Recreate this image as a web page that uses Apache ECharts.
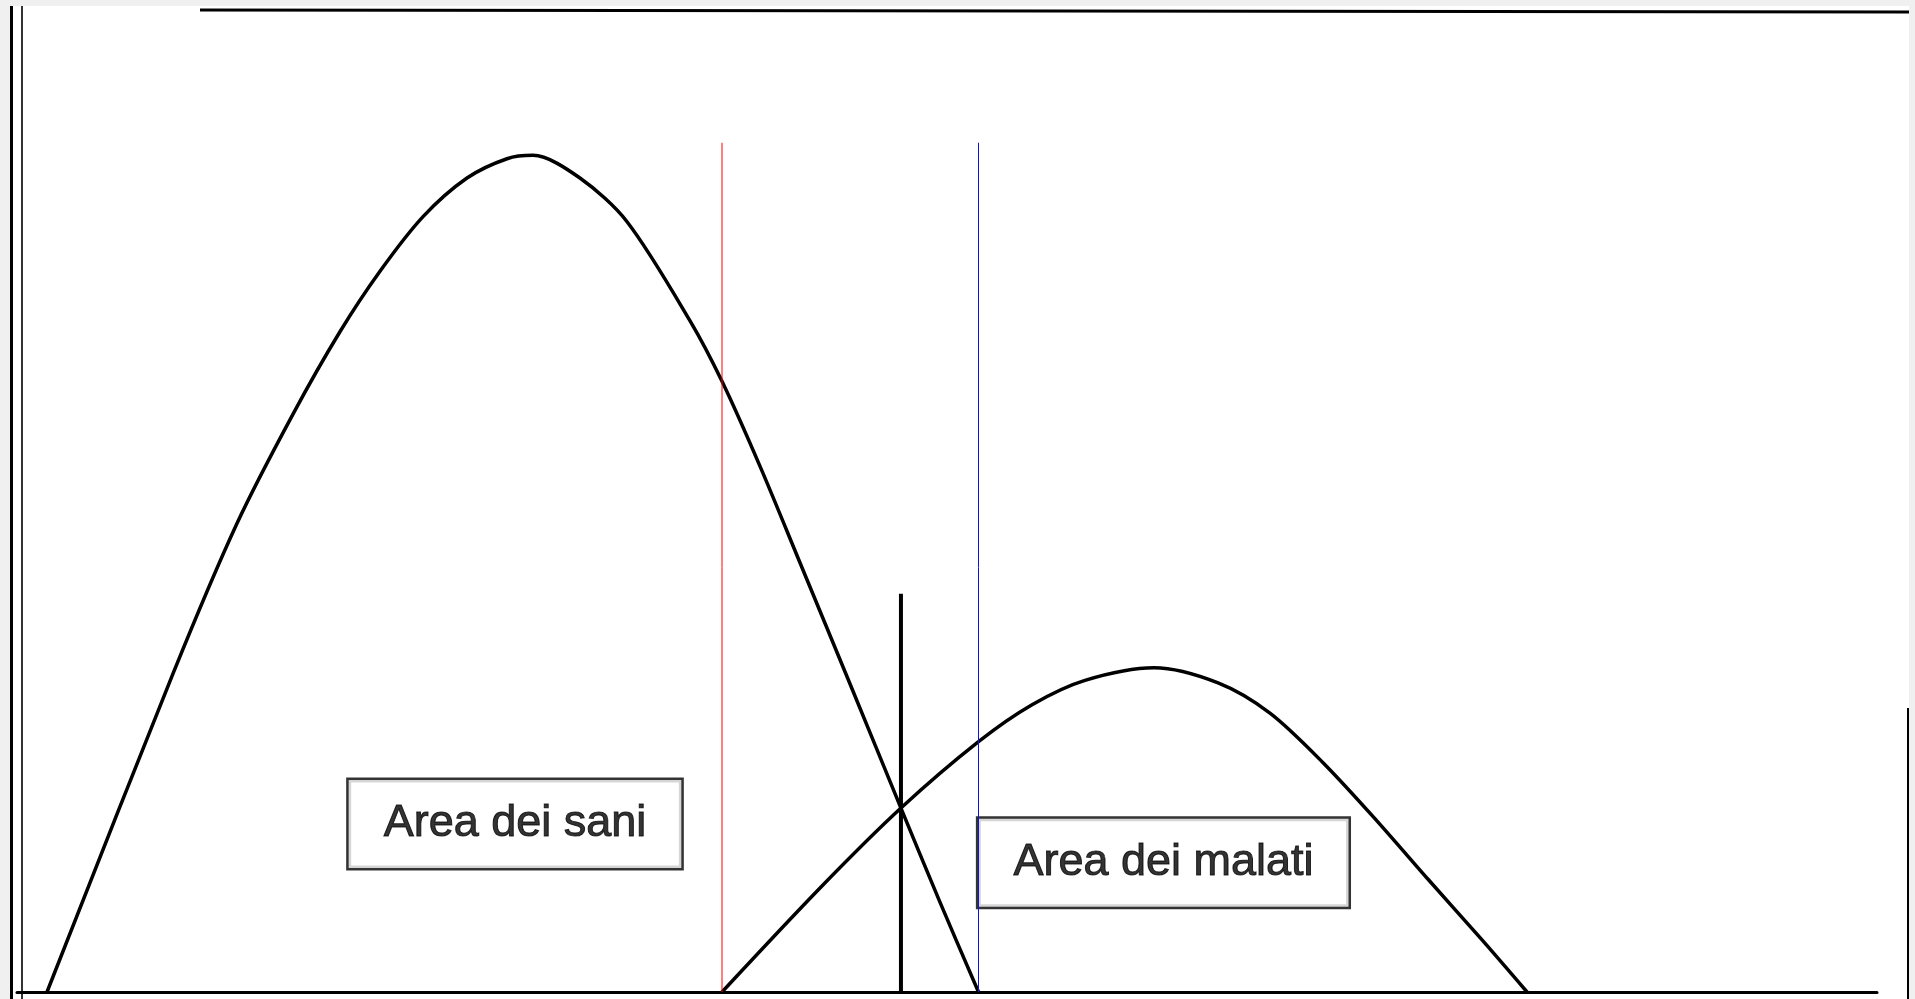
<!DOCTYPE html>
<html>
<head>
<meta charset="utf-8">
<title>Area dei sani / Area dei malati</title>
<script src="https://cdn.jsdelivr.net/npm/echarts@6/dist/echarts.min.js"></script>
<style>
  html, body { margin: 0; padding: 0; background: #ffffff; }
  #chart { width: 1915px; height: 999px; }
</style>
</head>
<body>
<div id="chart"></div>
<script>
// Distribuzione dei sani: punti [valore del test, frequenza]
const curvaSani = [
  [0, 0], [8.4, 37.9], [12.67, 55.8], [16.4, 68.8], [19.53, 78.6],
  [22.2, 85.8], [25.07, 92.3], [28.0, 96.9], [30.67, 99.2], [32.4, 99.6],
  [35.53, 96.9], [38.67, 91.7], [42.87, 79.9], [45.0, 72.7], [47.53, 62.6],
  [50.2, 51.1], [53.53, 36.7], [56.93, 21.9], [59.53, 10.7], [62.1, 0]
];

// Distribuzione dei malati
const curvaMalati = [
  [45.0, 0], [51.6, 12.5], [56.93, 21.9], [62.1, 29.8], [65.67, 34.2],
  [69.2, 37.1], [73.8, 38.6], [78.07, 36.8], [81.53, 33.2], [85.07, 27.3],
  [88.6, 20.5], [92.13, 13.3], [95.67, 6.2], [98.67, 0]
];

// Valore soglia (linea verticale nera) e sua altezza
const soglia = [[56.93, 0], [56.93, 47.4]];

// Limiti delle due distribuzioni (linee sottili rossa e blu)
const limiteInferiore = [[45.0, 0], [45.0, 101.1]];
const limiteSuperiore = [[62.1, 0], [62.1, 101.1]];

// Etichette delle aree, collocate nel piano dei dati
const etichette = [
  { name: 'Area dei sani', value: [31.2, 20.0] },
  { name: 'Area dei malati', value: [74.43, 15.4] }
];

const chart = echarts.init(document.getElementById('chart'), null, { renderer: 'canvas' });

const curveStyle = { color: '#000', width: 3.5, cap: 'round', join: 'round' };

chart.setOption({
  backgroundColor: '#ffffff',
  animation: false,
  grid: { left: 17, right: 38, top: 68, bottom: 7 },
  xAxis: {
    type: 'value', min: -2, max: 122,
    axisLine: { show: true, onZero: false, lineStyle: { color: '#000', width: 3 } },
    axisTick: { show: false }, axisLabel: { show: false }, splitLine: { show: false }
  },
  yAxis: {
    type: 'value', min: 0, max: 110,
    axisLine: { show: false }, axisTick: { show: false },
    axisLabel: { show: false }, splitLine: { show: false }
  },
  series: [
    {
      name: 'Sani', type: 'line', data: curvaSani, smooth: 0.3,
      symbol: 'none', lineStyle: curveStyle, z: 3
    },
    {
      name: 'Malati', type: 'line', data: curvaMalati, smooth: 0.3,
      symbol: 'none', lineStyle: curveStyle, z: 3
    },
    {
      name: 'Soglia', type: 'line', data: soglia, symbol: 'none',
      lineStyle: { color: '#000', width: 4 }, z: 4
    },
    {
      name: 'Limite inferiore', type: 'line', data: limiteInferiore, symbol: 'none',
      lineStyle: { color: '#ff0000', width: 1 }, z: 6
    },
    {
      name: 'Limite superiore', type: 'line', data: limiteSuperiore, symbol: 'none',
      lineStyle: { color: '#1010e0', width: 1 }, z: 6
    },
    {
      name: 'Aree', type: 'scatter', data: etichette, symbolSize: 0, z: 5,
      label: {
        show: true, position: 'inside', formatter: '{b}',
        fontFamily: 'Liberation Sans, Arial, sans-serif', fontSize: 45, lineHeight: 46,
        color: '#000', textBorderWidth: 1, textBorderColor: '#000',
        backgroundColor: '#fff', borderColor: '#000', borderWidth: 2.5,
        padding: [21, 35]
      },
      labelLayout: { hideOverlap: false }
    }
  ],
  graphic: [
    // cornice esterna grigia
    { type: 'rect', left: 0, top: 0, shape: { width: 1915, height: 6 }, style: { fill: '#f0f0f0' }, silent: true },
    { type: 'rect', left: 0, top: 0, shape: { width: 10, height: 999 }, style: { fill: '#f0f0f0' }, silent: true },
    { type: 'rect', left: 1909, top: 0, shape: { width: 6, height: 999 }, style: { fill: '#f0f0f0' }, silent: true },
    // doppio bordo sinistro
    { type: 'rect', left: 10, top: 6, shape: { width: 3, height: 993 }, style: { fill: '#000' }, silent: true },
    { type: 'rect', left: 21, top: 6, shape: { width: 2, height: 993 }, style: { fill: '#333' }, silent: true },
    // bordo superiore e destro
    { type: 'line', shape: { x1: 200, y1: 10, x2: 1909, y2: 12 }, style: { stroke: '#000', lineWidth: 3 }, silent: true },
    { type: 'rect', left: 1907, top: 708, shape: { width: 2, height: 291 }, style: { fill: '#000' }, silent: true }
  ]
});
</script>
</body>
</html>
